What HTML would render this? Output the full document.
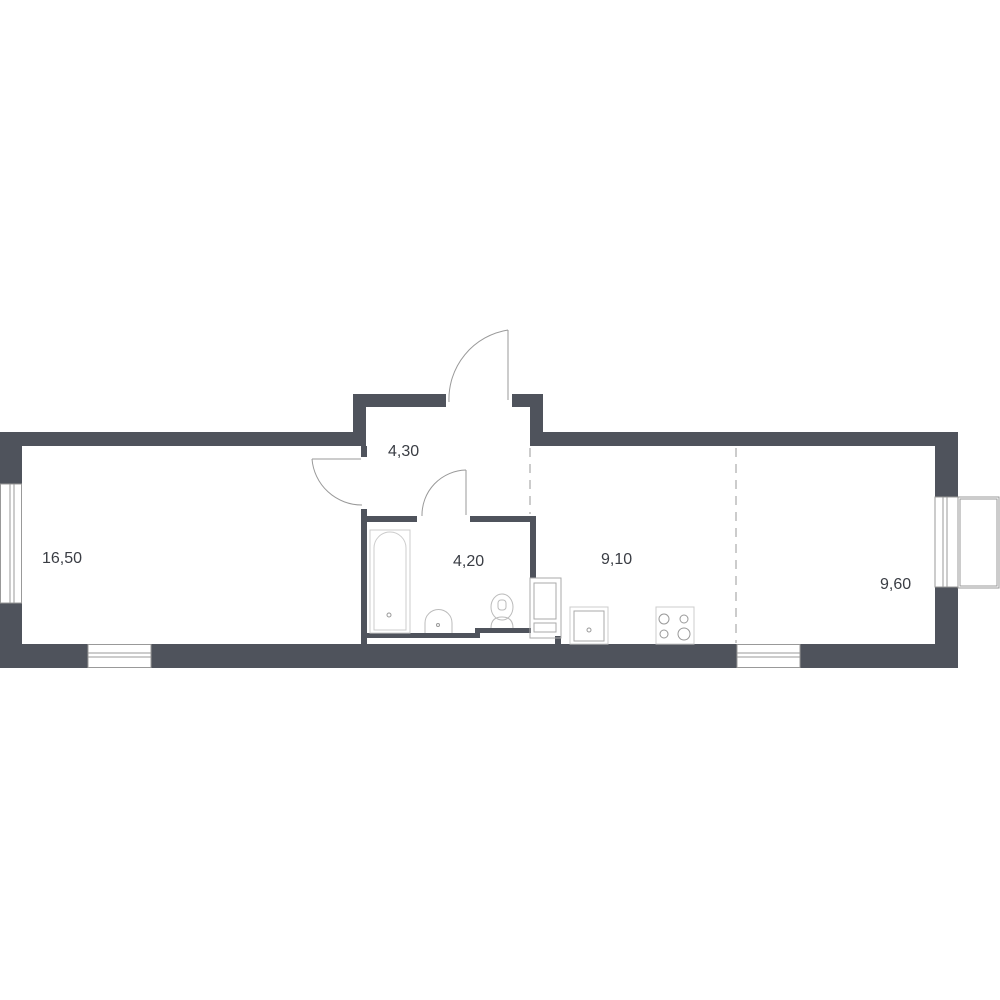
<!DOCTYPE html>
<html><head><style>body{margin:0;background:#fff}svg{display:block}</style></head><body>
<svg width="1000" height="1000" viewBox="0 0 1000 1000" xmlns="http://www.w3.org/2000/svg">
<g fill="#4f535c">
<rect x="0" y="432" width="366" height="14"/>
<rect x="353" y="394" width="93" height="13"/>
<rect x="353" y="394" width="13" height="52"/>
<rect x="512" y="394" width="31" height="13"/>
<rect x="530" y="394" width="13" height="52"/>
<rect x="530" y="432" width="428" height="14"/>
<rect x="0" y="432" width="22" height="52"/>
<rect x="0" y="603" width="22" height="65"/>
<rect x="0" y="644" width="88" height="24"/>
<rect x="151" y="644" width="586" height="24"/>
<rect x="800" y="644" width="158" height="24"/>
<rect x="935" y="432" width="23" height="65"/>
<rect x="935" y="587" width="23" height="81"/>
<rect x="361" y="446" width="6" height="11"/>
<rect x="361" y="509" width="6" height="135"/>
<rect x="366" y="516" width="51" height="6"/>
<rect x="470" y="516" width="66" height="6"/>
<rect x="530" y="516" width="6" height="62"/>
<rect x="366" y="633" width="110" height="5"/>
<rect x="475" y="628" width="56" height="5"/>
<rect x="475" y="628" width="5" height="10"/>
<rect x="555" y="636" width="6" height="8"/>
</g>
<g fill="none" stroke="#999" stroke-width="1">
<rect x="0.5" y="484" width="21" height="119"/><line x1="10" y1="484" x2="10" y2="603"/><line x1="14" y1="484" x2="14" y2="603"/>
<rect x="88" y="644.5" width="63" height="23"/><line x1="88" y1="653" x2="151" y2="653"/><line x1="88" y1="657" x2="151" y2="657"/>
<rect x="737" y="644.5" width="63" height="23"/><line x1="737" y1="653" x2="800" y2="653"/><line x1="737" y1="657" x2="800" y2="657"/>
<rect x="935" y="497" width="23" height="90"/><line x1="943" y1="497" x2="943" y2="587"/><line x1="947" y1="497" x2="947" y2="587"/>
<rect x="958" y="497" width="41" height="91"/><rect x="960" y="499" width="37" height="87"/>
<line x1="508" y1="330" x2="508" y2="400"/><path d="M508 330 A70 70 0 0 0 449 402"/>
<line x1="312" y1="459" x2="361" y2="459"/><path d="M312 459 A50 50 0 0 0 362 505"/>
<line x1="466" y1="470" x2="466" y2="515"/><path d="M466 470 A45 45 0 0 0 422 516"/>
<line x1="530" y1="448" x2="530" y2="514" stroke-dasharray="9,7"/>
<line x1="736" y1="448" x2="736" y2="643" stroke-dasharray="9,7"/>
<rect x="370" y="530" width="40" height="103" stroke="#ccc"/>
<path d="M374 630 V548 A16 16 0 0 1 406 548 V630 Z" stroke="#ccc"/>
<circle cx="389" cy="615" r="2"/>
<path d="M425 633 V623 A13 13 0 0 1 452 623 V633" stroke="#bbb"/><circle cx="438" cy="625" r="1.5"/>
<ellipse cx="502" cy="607" rx="11" ry="13" stroke="#bbb"/><rect x="498" y="600" width="8" height="10" rx="3" stroke="#bbb"/><path d="M491 628 Q491 617 502 617 Q513 617 513 628" stroke="#bbb"/>
<rect x="530" y="578" width="31" height="60" stroke="#aaa"/><rect x="534" y="583" width="22" height="36" stroke="#aaa"/><rect x="534" y="623" width="22" height="9" stroke="#aaa"/>
<rect x="570" y="607" width="38" height="37" stroke="#ccc"/><rect x="574" y="611" width="30" height="30" stroke="#aaa"/><circle cx="589" cy="630" r="2"/>
<rect x="656" y="607" width="38" height="37" stroke="#ccc"/><circle cx="664" cy="619" r="5"/><circle cx="684" cy="619" r="4"/><circle cx="664" cy="634" r="4"/><circle cx="684" cy="634" r="6"/>
</g>
<g font-family="Liberation Sans, sans-serif" font-size="16" fill="#3a3d44">
<text x="42" y="563">16,50</text>
<text x="388" y="456">4,30</text>
<text x="453" y="566">4,20</text>
<text x="601" y="564">9,10</text>
<text x="880" y="589">9,60</text>
</g>
</svg>
</body></html>
